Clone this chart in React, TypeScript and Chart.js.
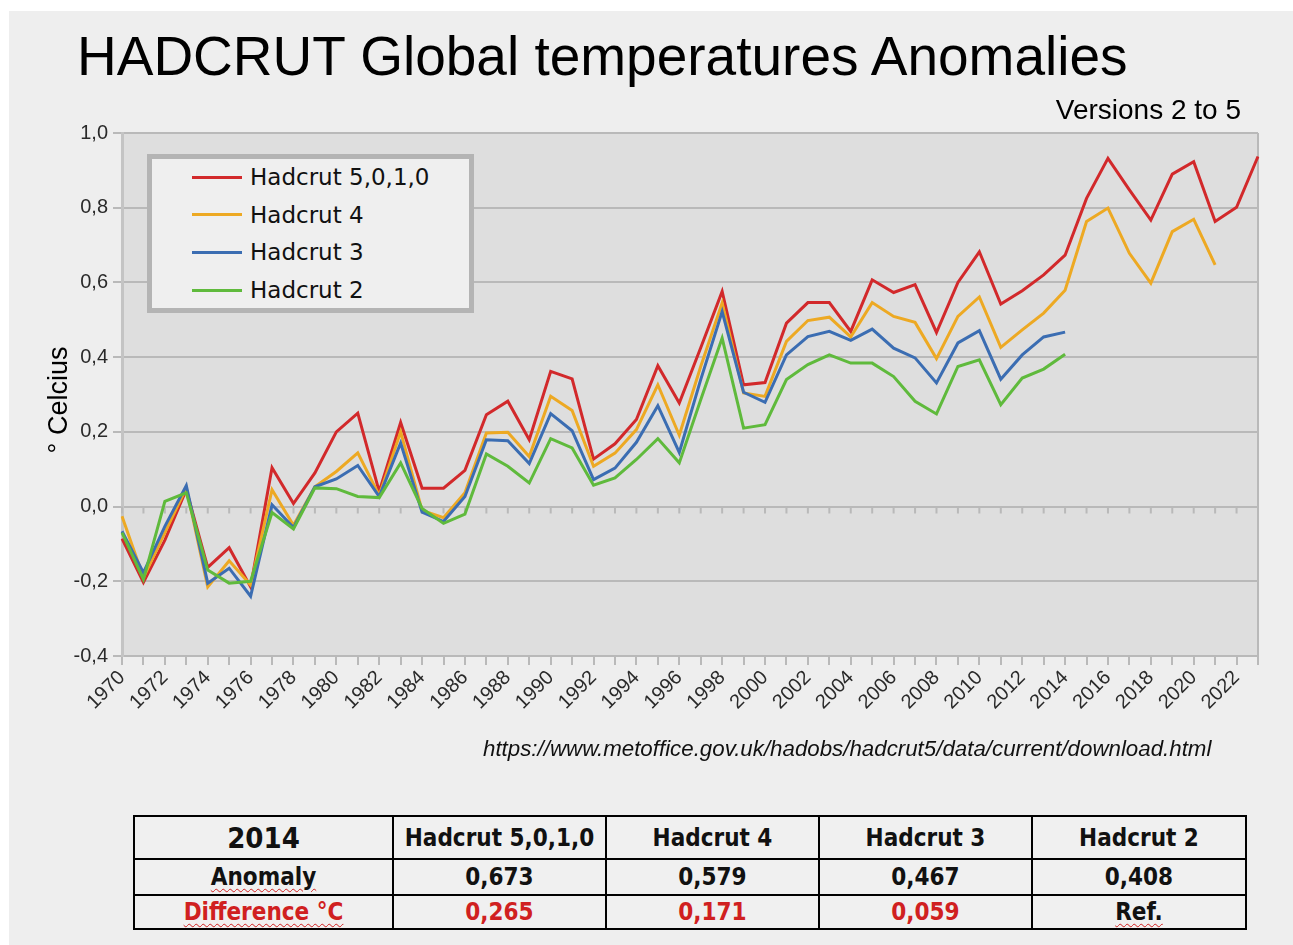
import React, { useEffect, useRef } from "react";
import { Chart, registerables } from "chart.js";

Chart.register(...registerables);

const years: string[] = [];
for (let y = 1970; y <= 2023; y++) years.push(String(y));

const hadcrut5 = [
  -0.086, -0.203, -0.09, 0.045, -0.163, -0.11, -0.215, 0.104, 0.008, 0.09,
  0.2, 0.25, 0.04, 0.225, 0.049, 0.049, 0.097, 0.246, 0.282, 0.179,
  0.362, 0.342, 0.127, 0.168, 0.233, 0.377, 0.277, 0.425, 0.576, 0.326,
  0.332, 0.491, 0.546, 0.546, 0.469, 0.607, 0.573, 0.594, 0.466, 0.6,
  0.682, 0.542, 0.578, 0.62, 0.673, 0.825, 0.932, 0.848, 0.767, 0.89,
  0.923, 0.763, 0.801, 0.937,
];

const hadcrut4 = [
  -0.026, -0.19, -0.07, 0.05, -0.215, -0.145, -0.21, 0.045, -0.05, 0.053,
  0.094, 0.144, 0.03, 0.2, -0.01, -0.03, 0.037, 0.197, 0.199, 0.134,
  0.295, 0.257, 0.108, 0.143, 0.206, 0.326, 0.191, 0.375, 0.545, 0.304,
  0.295, 0.442, 0.498, 0.507, 0.454, 0.546, 0.509, 0.493, 0.396, 0.509,
  0.561, 0.426, 0.473, 0.518, 0.579, 0.763, 0.799, 0.678, 0.598, 0.736,
  0.769, 0.647,
];

const hadcrut3 = [
  -0.066, -0.177, -0.053, 0.056, -0.205, -0.165, -0.24, 0.005, -0.056, 0.053,
  0.074, 0.11, 0.027, 0.17, -0.015, -0.04, 0.027, 0.179, 0.176, 0.115,
  0.249, 0.203, 0.072, 0.103, 0.172, 0.27, 0.145, 0.34, 0.522, 0.306,
  0.279, 0.406, 0.455, 0.469, 0.445, 0.475, 0.424, 0.398, 0.331, 0.438,
  0.471, 0.341, 0.406, 0.454, 0.467,
];

const hadcrut2 = [
  -0.07, -0.195, 0.014, 0.037, -0.17, -0.205, -0.2, -0.016, -0.06, 0.05,
  0.048, 0.027, 0.024, 0.117, -0.005, -0.045, -0.02, 0.141, 0.108, 0.063,
  0.182, 0.157, 0.057, 0.077, 0.126, 0.182, 0.117, 0.286, 0.451, 0.21,
  0.219, 0.34, 0.38, 0.406, 0.384, 0.384, 0.348, 0.282, 0.248, 0.375,
  0.393, 0.273, 0.344, 0.368, 0.408,
];

const seriesNames = ["Hadcrut 5,0,1,0", "Hadcrut 4", "Hadcrut 3", "Hadcrut 2"];
const seriesColors = ["#d2292b", "#eda923", "#3b6db2", "#5fba3c"];

const tableHeader = ["2014", "Hadcrut 5,0,1,0", "Hadcrut 4", "Hadcrut 3", "Hadcrut 2"];
const anomalyRow = ["Anomaly", "0,673", "0,579", "0,467", "0,408"];
const differenceRow = ["Difference °C", "0,265", "0,171", "0,059", "Ref."];

const fmt = (v: number) => {
  const s = (Math.round(v * 10) / 10).toFixed(1).replace(".", ",");
  return s === "-0,0" ? "0,0" : s;
};

const decorPlugin = {
  id: "decor",
  beforeDraw(chart: any) {
    const { ctx, chartArea } = chart;
    ctx.save();
    ctx.fillStyle = "#dedede";
    ctx.fillRect(chartArea.left, chartArea.top, chartArea.right - chartArea.left, chartArea.bottom - chartArea.top);
    ctx.restore();
  },
  beforeDatasetsDraw(chart: any) {
    const { ctx, chartArea, scales } = chart;
    const x = scales.x;
    const y0 = scales.y.getPixelForValue(0);
    ctx.save();
    ctx.strokeStyle = "#b9b9b9";
    ctx.lineWidth = 2;
    ctx.beginPath();
    ctx.moveTo(chartArea.right, chartArea.top);
    ctx.lineTo(chartArea.right, chartArea.bottom);
    for (let i = 0; i < years.length; i++) {
      const px = x.getPixelForValue(i);
      ctx.moveTo(px, y0);
      ctx.lineTo(px, y0 + 7);
    }
    ctx.stroke();
    ctx.restore();
  },
};

function ChartCanvas() {
  const ref = useRef<HTMLCanvasElement | null>(null);
  useEffect(() => {
    if (!ref.current) return;
    const data = [hadcrut5, hadcrut4, hadcrut3, hadcrut2];
    const chart = new Chart(ref.current, {
      type: "line",
      data: {
        labels: years,
        datasets: data.map((d, i) => ({
          label: seriesNames[i],
          data: d,
          borderColor: seriesColors[i],
          backgroundColor: seriesColors[i],
          borderWidth: 3,
          pointRadius: 0,
          tension: 0,
          fill: false,
          order: 3 - i,
        })),
      },
      options: {
        animation: false,
        responsive: false,
        devicePixelRatio: 1,
        layout: { padding: { left: 30, top: 133, right: 35, bottom: 0 } },
        plugins: { legend: { display: false }, tooltip: { enabled: false }, title: { display: false } },
        scales: {
          x: {
            type: "category",
            offset: false,
            afterFit: (s: any) => {
              s.height = 144;
            },
            grid: { drawOnChartArea: false, drawTicks: true, tickLength: 9, color: "#b9b9b9", lineWidth: 2 },
            border: { display: true, color: "#b9b9b9", width: 2 },
            ticks: {
              autoSkip: false,
              maxRotation: 45,
              minRotation: 45,
              padding: 1,
              color: "#2a2a2a",
              font: { family: "Liberation Sans", size: 20 },
              callback: (_v: any, i: number) => (i % 2 === 0 ? years[i] : ""),
            },
          },
          y: {
            min: -0.4,
            max: 1.0,
            afterFit: (s: any) => {
              s.width = 92;
            },
            grid: { color: "#b9b9b9", lineWidth: 2, tickLength: 9, tickColor: "#b9b9b9" },
            border: { display: true, color: "#c4c4c4", width: 3 },
            ticks: {
              stepSize: 0.2,
              padding: 5,
              color: "#2a2a2a",
              font: { family: "Liberation Sans", size: 20 },
              callback: (v: any) => fmt(Number(v)),
            },
          },
        },
      },
      plugins: [decorPlugin],
    } as any);
    return () => chart.destroy();
  }, []);
  return (
    <canvas
      ref={ref}
      width={1293}
      height={800}
      style={{ position: "absolute", left: 0, top: 0, width: 1293, height: 800 }}
    />
  );
}

const wavy: React.CSSProperties = {
  textDecorationLine: "underline",
  textDecorationStyle: "wavy",
  textDecorationColor: "#d02020",
  textDecorationThickness: "1px",
  textUnderlineOffset: "3px",
};

export default function App() {
  const cellBase: React.CSSProperties = {
    border: "2px solid #000",
    textAlign: "center",
    verticalAlign: "middle",
    padding: 0,
    fontFamily: "DejaVu Sans Condensed",
    fontWeight: "bold",
    fontSize: 24,
    color: "#111",
  };
  const colW = [259, 213, 213, 213, 214];
  return (
    <div style={{ position: "absolute", left: 0, top: 0, width: 1293, height: 945, background: "#ffffff", overflow: "hidden" }}>
      <div style={{ position: "absolute", left: 9, top: 11, width: 1284, height: 934, background: "#eeeeee" }} />
      <ChartCanvas />
      <div
        style={{
          position: "absolute",
          left: 77,
          top: 29,
          fontFamily: "Liberation Sans",
          fontSize: 55,
          lineHeight: "55px",
          color: "#000",
          whiteSpace: "nowrap",
        }}
      >
        HADCRUT Global temperatures Anomalies
      </div>
      <div
        style={{
          position: "absolute",
          right: 1293 - 1241,
          top: 96,
          fontFamily: "Liberation Sans",
          fontSize: 28,
          lineHeight: "28px",
          color: "#000",
          whiteSpace: "nowrap",
        }}
      >
        Versions 2 to 5
      </div>
      <div
        style={{
          position: "absolute",
          left: 58 - 100,
          top: 400 - 15,
          width: 200,
          height: 30,
          lineHeight: "30px",
          textAlign: "center",
          transform: "rotate(-90deg)",
          fontFamily: "Liberation Sans",
          fontSize: 27,
          color: "#000",
          whiteSpace: "nowrap",
        }}
      >
        ° Celcius
      </div>
      <div
        style={{
          position: "absolute",
          left: 147,
          top: 154,
          width: 317,
          height: 149,
          border: "5px solid #b4b4b4",
          background: "#efefef",
        }}
      >
        {seriesNames.map((n, i) => (
          <div key={n} style={{ position: "absolute", left: 40, top: 18 + i * 37.7 - 16, height: 32, display: "flex", alignItems: "center" }}>
            <div style={{ width: 50, height: 3, background: seriesColors[i], marginRight: 8 }} />
            <span style={{ fontFamily: "DejaVu Sans", fontSize: 23, color: "#111", whiteSpace: "nowrap" }}>{n}</span>
          </div>
        ))}
      </div>
      <div
        style={{
          position: "absolute",
          left: 483,
          top: 738,
          fontFamily: "Liberation Sans",
          fontStyle: "italic",
          fontSize: 22.3,
          lineHeight: "22px",
          color: "#111",
          whiteSpace: "nowrap",
        }}
      >
        https://www.metoffice.gov.uk/hadobs/hadcrut5/data/current/download.html
      </div>
      <table
        style={{
          position: "absolute",
          left: 133,
          top: 815,
          width: 1112,
          borderCollapse: "collapse",
          tableLayout: "fixed",
          background: "#f0f0f0",
        }}
      >
        <colgroup>
          {colW.map((w, i) => (
            <col key={i} style={{ width: w }} />
          ))}
        </colgroup>
        <tbody>
          <tr style={{ height: 43 }}>
            {tableHeader.map((h, i) => (
              <td key={i} style={{ ...cellBase, fontSize: i === 0 ? 29 : 24 }}>
                {h}
              </td>
            ))}
          </tr>
          <tr style={{ height: 36 }}>
            {anomalyRow.map((h, i) => (
              <td key={i} style={cellBase}>
                <span style={i === 0 ? wavy : undefined}>{h}</span>
              </td>
            ))}
          </tr>
          <tr style={{ height: 34 }}>
            {differenceRow.map((h, i) => {
              const isRef = i === differenceRow.length - 1;
              return (
                <td key={i} style={{ ...cellBase, color: isRef ? "#111" : "#d02020" }}>
                  <span style={i === 0 || isRef ? wavy : undefined}>{h}</span>
                </td>
              );
            })}
          </tr>
        </tbody>
      </table>
    </div>
  );
}
